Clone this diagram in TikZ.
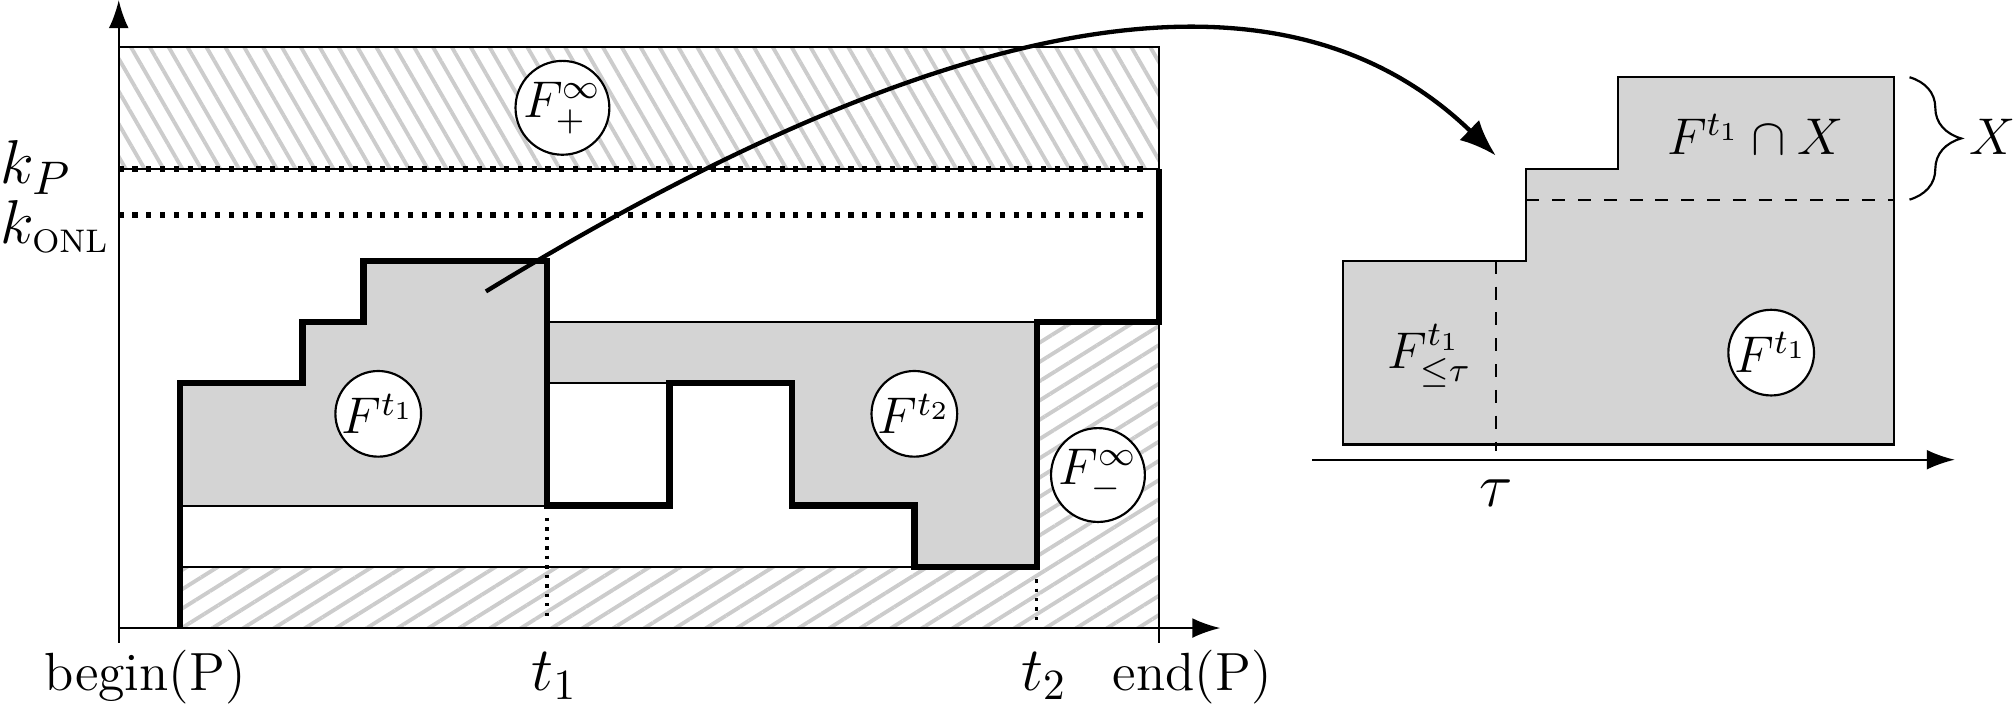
\documentclass[tikz,border=0pt]{standalone}
\usepackage{amsmath}
\usepackage{tikz}
\usetikzlibrary{arrows.meta, patterns.meta, decorations.pathreplacing, positioning}
\tikzstyle{fnode} = [circle, draw, fill=white, line width=0.5pt, inner sep=0pt, minimum size=0.7cm]
\tikzstyle{line} = [draw, line width=0.5pt]
\tikzstyle{greg} = [draw, fill=black!17, line width=0.5pt]
\tikzstyle{hatchtop} = [draw, line width=0.5pt, pattern={Lines[angle=-60, distance=3.8pt, line width=0.9pt]}, pattern color=black!20]
\tikzstyle{hatchbot} = [draw, line width=0.5pt, pattern={Lines[angle=32, distance=3.8pt, line width=0.9pt]}, pattern color=black!20]
\tikzstyle{prof} = [draw, line width=1.5pt]
\tikzstyle{lvl} = [draw, very thick, dotted]
\tikzstyle{tdot} = [draw, line width=0.8pt, dash pattern=on 0.8pt off 1.4pt]
\tikzstyle{axis} = [draw, line width=0.5pt, -{Latex[length=6.5pt, width=4.6pt]}]
\tikzstyle{zoomarrow} = [draw, line width=1pt, -{Latex[length=8.5pt, width=6.5pt]}]
\tikzstyle{tlab} = [anchor=base, inner sep=0pt, font=\Large]
\tikzstyle{plab} = [anchor=base, inner sep=0pt, font=\fontsize{12.5}{15}\selectfont]

\begin{document}
\begin{tikzpicture}[font=\large]
			\useasboundingbox (-0.97,-0.613) rectangle (15.5,5.131);

			% hatched and gray areas
			\path [hatchtop] (0,3.75) rectangle (8.5,4.75);
			\path [hatchbot] (0.5,0) -- (0.5,0.5) -- (7.5,0.5) -- (7.5,2.5) -- (8.5,2.5) -- (8.5,0) -- cycle;
			\path [greg] (0.5,1) -- (0.5,2) -- (1.5,2) -- (1.5,2.5) -- (2,2.5) -- (2,3) -- (3.5,3) -- (3.5,1) -- cycle;
			\path [greg] (3.5,2.5) -- (7.5,2.5) -- (7.5,0.5) -- (6.5,0.5) -- (6.5,1) -- (5.5,1) -- (5.5,2) -- (3.5,2) -- cycle;
			\path [line] (8.5,4.75) -- (8.5,-0.12);

			\path [lvl] (0,3.75) -- (8.4,3.75);
			\path [lvl] (0,3.375) -- (8.4,3.375);
			\path [tdot] (3.5,0.9) -- (3.5,0.05);
			\path [tdot] (7.5,0.4) -- (7.5,0.05);

			\path [prof] (0.5,0) -- (0.5,2) -- (1.5,2) -- (1.5,2.5) -- (2,2.5) -- (2,3) -- (3.5,3) -- (3.5,1) -- (4.5,1) -- (4.5,2) -- (5.5,2) -- (5.5,1) -- (6.5,1) -- (6.5,0.5) -- (7.5,0.5) -- (7.5,2.5) -- (8.5,2.5) -- (8.5,3.75);

			\path [axis] (0,-0.12) -- (0,5.13);
			\path [axis] (0,0) -- (9,0);

			\node [anchor=base west, inner sep=0pt, font=\fontsize{15.5}{18}\selectfont] (kp) at (-0.97,3.63) {$k_P$};
			\node [anchor=base west, inner sep=0pt, font=\fontsize{15.5}{18}\selectfont] (konl) at (-0.97,3.145) {$k_{\mbox{\fontsize{7.6}{9}\selectfont ONL}}$};
			\node [plab] (beginp) at (0.215,-0.507) {begin(P)};
			\node [tlab] (tone) at (3.56,-0.507) {$t_1$};
			\node [tlab] (ttwo) at (7.56,-0.507) {$t_2$};
			\node [plab] (endp) at (8.77,-0.507) {end(P)};

			\node [fnode] (fplus) at (3.625,4.25) {$F^{\infty}_{+}$};
			\node [fnode] (fone) at (2.12,1.75) {$F^{t_1}$};
			\node [fnode] (ftwo) at (6.5,1.75) {$F^{t_2}$};
			\node [fnode] (fminus) at (8,1.25) {$F^{\infty}_{-}$};

			% zoom into F^{t_1}
			\coordinate (zfrom) at (3,2.75);
			\coordinate (zto) at (11.25,3.86);
			\path [zoomarrow] (zfrom) .. controls (7.5,5.5) and (9.8,5.26) .. (zto);

			\path [greg] (10,1.5) -- (10,3) -- (11.5,3) -- (11.5,3.75) -- (12.25,3.75) -- (12.25,4.5) -- (14.5,4.5) -- (14.5,1.5) -- cycle;
			\draw [dashed, line width=0.5pt] (11.5,3.5) -- (14.5,3.5);
			\draw [dashed, line width=0.5pt] (11.25,3) -- (11.25,1.45);
			\path [axis] (9.75,1.375) -- (15,1.375);

			\node [tlab] (tau) at (11.25,0.99) {$\tau$};
			\node [anchor=base, inner sep=0pt] (fcapx) at (13.37,3.87) {$F^{t_1} \cap X$};
			\node [anchor=base, inner sep=0pt] (fle) at (10.71,2.124) {$F^{t_1}_{\leq\tau}$};
			\node [fnode] (fonebig) at (13.5,2.25) {$F^{t_1}$};
			\draw [decorate, decoration={brace, amplitude=12pt}, line width=0.5pt] (14.63,4.5) -- (14.63,3.5);
			\node [anchor=base, inner sep=0pt] (xlab) at (15.31,3.865) {$X$};
		\end{tikzpicture}
\end{document}
